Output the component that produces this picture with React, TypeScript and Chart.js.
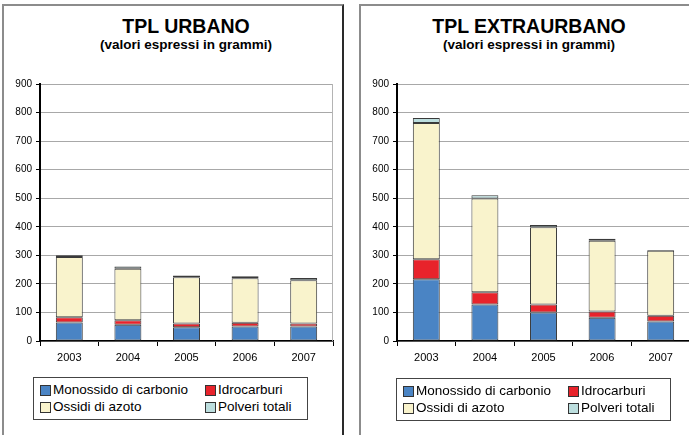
import React, { useEffect, useRef } from 'react';
import { Chart, registerables } from 'chart.js';

Chart.register(...registerables);

const FONT = "'Liberation Sans', Arial, sans-serif";

const YEARS = ['2003', '2004', '2005', '2006', '2007'];
const SERIES_NAMES = ['Monossido di carbonio', 'Idrocarburi', 'Ossidi di azoto', 'Polveri totali'];
const SERIES_COLORS = ['#4A84C4', '#E8232B', '#F9F3CC', '#BCDEDE'];

const URBANO_CO = [65, 57, 48, 51, 51];
const URBANO_HC = [18, 16, 13, 13, 10];
const URBANO_NOX = [211, 180, 162, 156, 152];
const URBANO_PM = [6, 8, 6, 7, 8];

const EXTRA_CO = [216, 128, 100, 81, 68];
const EXTRA_HC = [70, 43, 28, 22, 20];
const EXTRA_NOX = [477, 328, 270, 248, 228];
const EXTRA_PM = [18, 11, 8, 7, 3];

const Y_MAX = 900;
const Y_STEP = 100;

const rightEdgePlugin = {
  id: 'rightEdge',
  afterDraw(chart: any) {
    const { ctx, chartArea } = chart;
    ctx.save();
    ctx.strokeStyle = '#b4b4b4';
    ctx.lineWidth = 1;
    ctx.beginPath();
    ctx.moveTo(chartArea.right - 0.5, chartArea.top);
    ctx.lineTo(chartArea.right - 0.5, chartArea.bottom);
    ctx.stroke();
    ctx.restore();
  },
};

function BarPanel(props: any) {
  const { left, width, padLeft, padRight, yWidth, series } = props;
  const ref = useRef<HTMLCanvasElement>(null);
  useEffect(() => {
    const chart = new Chart(ref.current as HTMLCanvasElement, {
      type: 'bar',
      data: {
        labels: YEARS,
        datasets: series.map((vals: number[], i: number) => ({
          label: SERIES_NAMES[i],
          data: vals,
          backgroundColor: SERIES_COLORS[i],
          borderColor: '#3a3a3a',
          borderWidth: 1,
          borderSkipped: false,
          categoryPercentage: 1,
          barPercentage: 0.46,
        })),
      },
      options: {
        animation: false,
        responsive: false,
        maintainAspectRatio: false,
        devicePixelRatio: 1,
        layout: { padding: { top: 84, bottom: 74, left: padLeft, right: padRight } },
        plugins: {
          legend: { display: false },
          title: { display: false },
          tooltip: { enabled: false },
        },
        scales: {
          x: {
            stacked: true,
            offset: true,
            grid: {
              offset: true,
              drawOnChartArea: false,
              drawTicks: true,
              tickLength: 5,
              tickColor: '#000',
            },
            border: { display: true, color: '#000', width: 1.5 },
            ticks: { color: '#000', font: { family: FONT, size: 11 }, padding: 5, maxRotation: 0 },
            afterFit: (s: any) => {
              s.height = 20;
            },
          },
          y: {
            stacked: true,
            min: 0,
            max: Y_MAX,
            ticks: { stepSize: Y_STEP, color: '#000', font: { family: FONT, size: 10 }, padding: 4 },
            grid: { color: '#a8a8a8', lineWidth: 1, drawTicks: true, tickLength: 4, tickColor: '#000' },
            border: { display: true, color: '#000', width: 2 },
            afterFit: (s: any) => {
              s.width = yWidth;
            },
          },
        },
      } as any,
      plugins: [rightEdgePlugin],
    });
    return () => chart.destroy();
  }, []);
  return (
    <canvas
      ref={ref}
      width={width}
      height={435}
      style={{ position: 'absolute', left, top: 0, width, height: 435 }}
    />
  );
}

function Legend(props: any) {
  const { left, top } = props;
  const item = (i: number, x: number, y: number) => (
    <div key={i} style={{ position: 'absolute', left: x, top: y, height: 16, display: 'flex', alignItems: 'center', whiteSpace: 'nowrap' }}>
      <div style={{ width: 9, height: 9, background: SERIES_COLORS[i], border: '1px solid #333', marginRight: 2 }} />
      <span style={{ fontFamily: FONT, fontSize: 13.5, color: '#000', lineHeight: '16px' }}>{SERIES_NAMES[i]}</span>
    </div>
  );
  return (
    <div style={{ position: 'absolute', left, top, width: 273, height: 41, border: '1px solid #444', background: '#fff' }}>
      {item(0, 6, 4)}
      {item(1, 171, 4)}
      {item(2, 6, 21)}
      {item(3, 171, 21)}
    </div>
  );
}

function Titles(props: any) {
  const { center, title } = props;
  return (
    <>
      <div style={{ position: 'absolute', left: center - 150, top: 14, width: 300, textAlign: 'center', fontFamily: FONT, fontWeight: 'bold', fontSize: 19.5, lineHeight: '24px', color: '#000' }}>{title}</div>
      <div style={{ position: 'absolute', left: center - 150, top: 37, width: 300, textAlign: 'center', fontFamily: FONT, fontWeight: 'bold', fontSize: 13.5, lineHeight: '16px', color: '#000' }}>(valori espressi in grammi)</div>
    </>
  );
}

export default function App() {
  return (
    <div style={{ position: 'fixed', left: 0, top: 0, width: 689, height: 435, overflow: 'hidden', background: '#fff' }}>
      <div style={{ position: 'absolute', left: 2, top: 4, width: 338, height: 500, borderTop: '2px solid #8c8c8c', borderLeft: '2px solid #8c8c8c', borderRight: '2px solid #2a2a2a' }} />
      <div style={{ position: 'absolute', left: 359, top: 4, width: 400, height: 500, borderTop: '2px solid #8c8c8c', borderLeft: '2px solid #8c8c8c' }} />
      <Titles center={186} title="TPL URBANO" />
      <Titles center={529} title="TPL EXTRAURBANO" />
      <BarPanel left={0} width={345} padLeft={8} padRight={12} yWidth={32} series={[URBANO_CO, URBANO_HC, URBANO_NOX, URBANO_PM]} />
      <BarPanel left={345} width={360} padLeft={8} padRight={15} yWidth={44} series={[EXTRA_CO, EXTRA_HC, EXTRA_NOX, EXTRA_PM]} />
      <Legend left={33} top={377} />
      <Legend left={396} top={378} />
    </div>
  );
}
